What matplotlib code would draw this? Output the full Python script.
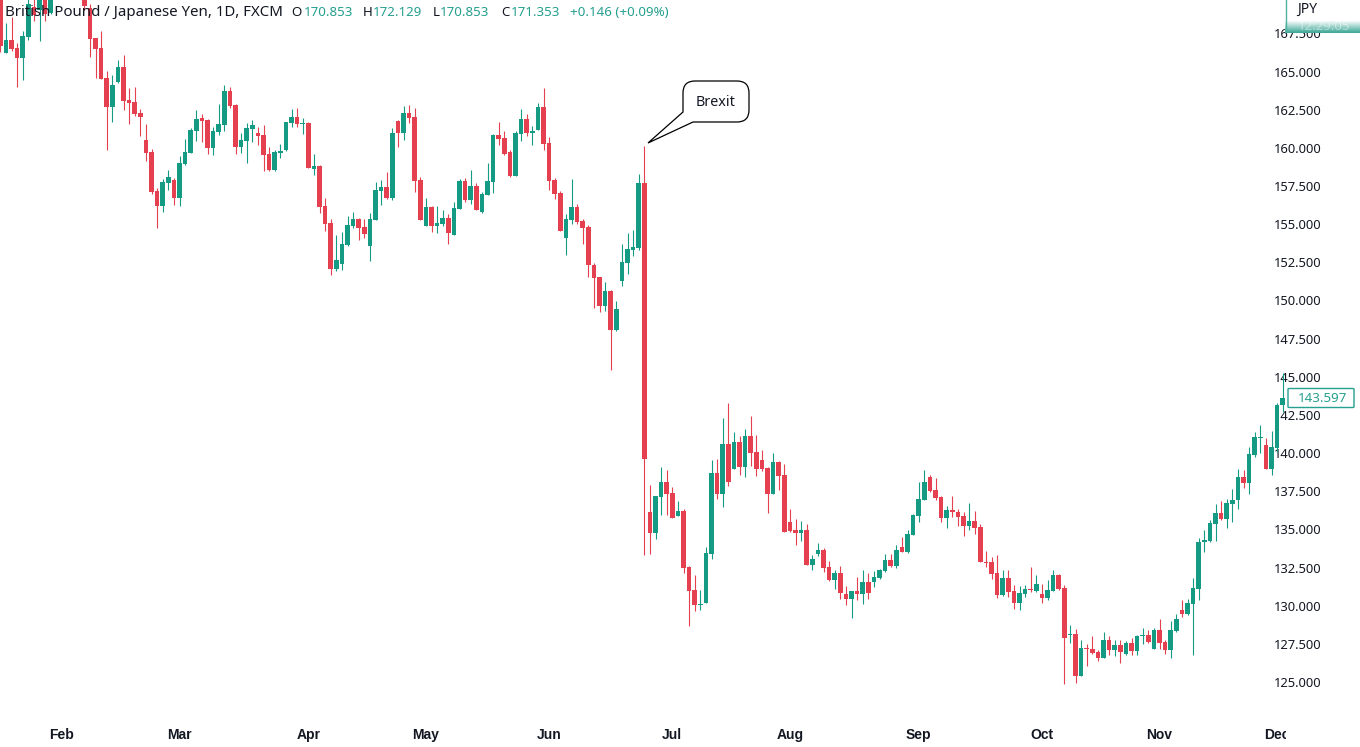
import numpy as np
import matplotlib
matplotlib.use("Agg")
import matplotlib.pyplot as plt
from matplotlib.patches import Rectangle, FancyBboxPatch, PathPatch
from matplotlib.path import Path

# GBP/JPY daily candles
opens = [170.5, 166.24, 167.07, 166.52, 165.91, 167.29, 169.21, 169.03, 170.6, 168.86,
         170.853, 171.4, 170.8, 171.2, 170.6, 170.2, 169.14, 167.18, 166.52, 164.56,
         162.7, 164.29, 165.28, 163.14, 163.0, 162.29, 160.52, 159.73, 157.17, 156.19,
         157.72, 157.89, 156.71, 158.94, 159.69, 161.11, 161.96, 161.83, 159.99, 161.04,
         161.5, 163.73, 162.81, 160.06, 160.45, 161.24, 160.95, 160.84, 159.6, 158.55,
         159.69, 159.86, 161.63, 162.02, 161.59, 161.63, 158.62, 158.81, 156.19,
         155.08, 152.06, 152.39, 153.64, 154.88, 155.34, 154.82, 153.57, 155.28, 157.18,
         157.44, 156.72, 161.76, 160.98, 162.29, 162.03, 157.9, 154.88, 156.13, 154.88,
         155.01, 155.41, 154.29, 155.98, 157.83, 156.59, 157.5, 155.8, 156.91, 157.77,
         160.85, 160.65, 159.73, 158.16, 160.91, 161.89, 161.0, 161.17, 162.68, 160.32,
         157.9, 157.05, 154.1, 155.28, 156.13, 155.21, 154.82, 152.33, 151.54, 149.64,
         150.62, 148.07, 151.28, 152.46, 153.31, 153.44, 157.7,
         136.14, 134.76, 137.12, 138.13, 137.39, 135.88, 136.21, 132.54, 131.03, 130.05,
         130.18, 133.39, 138.7, 137.32, 140.6, 138.96, 140.73, 139.09, 141.12, 140.07,
         139.55, 139.02, 137.32, 139.42, 138.56, 135.49, 134.96, 134.76, 134.96, 132.67,
         133.39, 133.65, 132.54, 131.69, 132.14, 130.77, 130.44, 130.96, 130.77, 131.55,
         131.55, 131.82, 132.27, 133.0, 132.6, 133.85, 133.52, 134.63, 135.88, 136.93,
         138.43, 137.58, 137.12, 135.75, 136.27, 136.14, 135.88,
         135.22, 135.55, 135.16, 132.86, 132.86, 132.14, 130.7, 131.81, 130.96, 130.18,
         130.77, 131.09, 130.96, 130.77, 130.5, 130.96, 132.01, 131.16, 128.06, 128.14,
         125.39, 127.23, 127.16, 126.96, 126.57, 127.75, 127.1, 127.42, 126.83, 127.55,
         127.03, 128.0, 128.08, 127.16, 128.41, 127.62, 127.1, 128.34, 129.72, 129.45,
         130.11, 131.09, 134.17, 134.24, 135.35, 136.07, 135.68, 136.66, 136.93, 138.43,
         138.04, 139.87, 140.99, 140.53, 138.96, 140.33, 143.15]

highs = [171.5, 168.16, 168.6, 166.85, 167.68, 170.0, 170.2, 170.9, 171.2, 171.6,
         172.129, 172.0, 171.6, 171.7, 171.0, 170.5, 169.4, 167.18, 167.66, 165.04,
         164.77, 165.76, 166.09, 163.9, 163.97, 162.55, 161.56, 159.93, 157.35, 157.96,
         158.55, 158.0, 159.47, 160.56, 161.28, 162.48, 162.2, 161.89, 161.39, 162.87,
         164.1, 163.97, 162.87, 160.95, 161.61, 161.83, 161.35, 161.5, 160.04, 159.86,
         160.25, 161.72, 162.55, 162.63, 161.94, 161.72, 159.58, 158.88, 156.69,
         155.32, 154.29, 154.47, 155.54, 155.8, 155.41, 155.32, 155.71, 157.77, 157.9,
         158.42, 161.3, 161.83, 162.75, 162.81, 162.62, 158.07, 156.72, 156.19, 156.19,
         155.93, 155.65, 156.46, 157.96, 158.03, 158.55, 157.68, 157.11, 159.01, 160.91,
         161.7, 161.11, 159.86, 161.11, 162.55, 162.22, 161.44, 162.94, 163.93, 160.71,
         158.03, 157.18, 155.67, 157.96, 156.32, 155.32, 154.95, 152.46, 151.54, 151.21,
         150.69, 149.97, 153.7, 154.42, 154.62, 158.29, 160.12,
         137.91, 137.19, 139.09, 138.89, 137.78, 136.86, 136.34, 132.6, 132.01, 131.03,
         133.85, 139.55, 139.61, 142.3, 143.28, 141.38, 141.12, 141.58, 142.43, 141.19,
         140.2, 139.09, 140.0, 139.48, 139.29, 136.34, 135.68, 135.55, 135.35, 133.32,
         134.11, 133.78, 132.93, 132.34, 132.6, 131.29, 130.96, 131.88, 132.34, 132.14,
         132.27, 132.4, 133.39, 133.39, 133.98, 134.5, 134.96, 136.01, 138.1, 138.89,
         138.56, 138.37, 137.19, 136.53, 137.19, 136.34, 136.14,
         136.73, 136.2, 135.35, 133.58, 133.19, 133.32, 132.34, 132.34, 131.36, 131.29,
         131.36, 132.53, 132.01, 131.42, 131.68, 132.34, 132.08, 131.36, 128.73, 128.47,
         127.75, 127.49, 128.01, 127.1, 128.27, 128.01, 127.75, 127.75, 127.69, 127.88,
         128.08, 128.54, 128.41, 128.54, 129.13, 127.75, 128.99, 129.45, 130.37, 130.44,
         131.81, 134.44, 134.96, 135.61, 136.66, 136.86, 136.99, 137.65, 138.96, 138.89,
         140.4, 141.38, 141.84, 140.99, 141.45, 143.28, 145.25]

lows = [166.3, 166.2, 166.37, 164.01, 164.45, 167.07, 168.34, 167.03, 168.34, 168.77,
        170.853, 170.5, 170.3, 170.4, 170.0, 169.03, 165.98, 164.56, 164.49, 159.86,
        161.72, 164.23, 162.48, 161.56, 162.11, 160.8, 159.16, 156.98, 154.75, 155.82,
        157.24, 156.28, 156.19, 158.88, 159.64, 160.47, 160.36, 159.6, 159.53, 160.84,
        161.13, 162.61, 159.6, 159.64, 158.99, 160.41, 160.19, 158.48, 158.5, 158.48,
        159.31, 159.79, 161.39, 161.35, 160.91, 158.66, 158.22, 155.75, 154.55,
        151.67, 151.96, 152.0, 153.59, 154.77, 153.96, 154.07, 152.59, 155.28, 156.26,
        156.65, 156.59, 160.06, 160.52, 161.65, 157.13, 155.28, 154.88, 154.49, 154.42,
        154.88, 153.7, 154.29, 155.98, 156.46, 156.32, 155.93, 155.73, 156.91, 157.02,
        160.19, 159.53, 158.09, 158.16, 160.45, 160.8, 160.19, 161.17, 159.86, 157.24,
        156.65, 154.55, 152.98, 155.01, 155.01, 153.7, 151.54, 149.51, 149.25, 149.31,
        145.45, 148.0, 150.95, 151.74, 152.92, 153.31, 133.32,
        133.39, 134.37, 135.94, 135.94, 135.75, 135.88, 132.14, 128.67, 129.65, 129.72,
        130.18, 133.06, 136.99, 136.47, 137.85, 138.96, 138.57, 138.43, 139.15, 138.5,
        138.83, 136.07, 137.32, 137.58, 134.83, 134.83, 133.98, 134.24, 132.67, 132.34,
        133.26, 132.21, 131.62, 131.1, 130.44, 130.05, 129.19, 130.37, 130.11, 130.44,
        131.23, 131.75, 132.21, 132.54, 132.47, 133.52, 133.45, 134.63, 135.49, 136.93,
        137.45, 136.93, 135.49, 135.09, 135.81, 135.22, 134.57,
        134.96, 134.7, 132.86, 132.53, 131.75, 130.5, 130.63, 130.57, 129.78, 129.72,
        130.57, 130.9, 130.9, 130.18, 130.37, 130.96, 131.03, 124.87, 127.55, 124.93,
        125.39, 126.05, 126.83, 126.37, 126.57, 126.77, 126.7, 126.24, 126.77, 126.77,
        126.77, 127.49, 127.55, 127.16, 127.16, 126.83, 126.57, 128.27, 129.26, 129.39,
        126.77, 130.37, 133.52, 134.17, 134.24, 135.61, 135.09, 135.48, 136.34, 137.71,
        137.32, 139.74, 140.01, 138.96, 138.56, 140.07, 142.69]

closes = [166.7, 167.07, 166.48, 165.91, 167.33, 169.43, 168.71, 170.4, 168.77, 171.0,
          171.353, 170.8, 171.2, 170.6, 170.2, 169.3, 167.13, 166.48, 164.51, 162.7,
          164.12, 165.28, 163.09, 162.92, 162.22, 162.05, 159.66, 157.11, 156.19, 157.76,
          158.09, 156.71, 158.99, 159.71, 161.17, 161.89, 161.78, 159.99, 161.11, 161.54,
          163.73, 162.74, 160.06, 160.52, 161.3, 161.5, 160.78, 159.53, 158.55, 159.73,
          159.79, 161.7, 162.02, 161.56, 161.63, 158.68, 158.81, 156.12, 155.01,
          152.06, 152.65, 153.7, 154.95, 155.34, 154.75, 154.36, 155.34, 157.24, 157.44,
          156.72, 160.98, 160.98, 162.29, 161.96, 157.83, 155.28, 156.13, 154.88, 155.06,
          155.41, 154.42, 156.06, 157.83, 156.59, 157.5, 155.93, 156.98, 157.83, 160.85,
          160.58, 159.6, 158.16, 160.98, 161.89, 160.98, 161.09, 162.68, 160.26, 157.83,
          156.98, 154.55, 155.34, 156.13, 155.14, 154.75, 152.33, 151.47, 149.64, 150.62,
          148.07, 149.44, 152.52, 153.37, 153.51, 157.7, 139.63,
          134.76, 137.19, 138.13, 137.32, 135.75, 136.21, 132.47, 130.96, 130.05, 130.11,
          133.45, 138.7, 137.32, 140.6, 138.1, 140.73, 139.09, 141.12, 140.01, 138.96,
          138.96, 137.32, 139.42, 138.5, 134.83, 134.9, 134.76, 134.96, 132.67, 133.06,
          133.65, 132.47, 131.69, 132.14, 130.83, 130.44, 130.96, 130.77, 131.55, 130.83,
          131.88, 132.34, 133.0, 132.6, 133.65, 133.52, 134.7, 135.94, 136.99, 138.1,
          137.52, 137.06, 135.75, 136.27, 136.14, 135.81, 135.22,
          135.55, 135.09, 132.86, 132.8, 132.08, 130.7, 131.81, 130.9, 130.18, 130.83,
          131.09, 131.01, 131.42, 130.5, 131.03, 132.01, 131.09, 127.88, 128.14, 125.39,
          127.23, 127.14, 126.9, 126.57, 127.75, 127.1, 127.42, 126.96, 127.55, 127.03,
          128.01, 128.08, 127.62, 128.41, 127.55, 127.1, 128.41, 129.13, 129.45, 130.18,
          131.16, 134.17, 134.3, 135.42, 136.07, 135.68, 136.73, 136.93, 138.43, 138.04,
          139.94, 141.05, 141.05, 138.96, 140.4, 143.15, 143.597]

month_labels = ["Feb", "Mar", "Apr", "May", "Jun", "Jul", "Aug", "Sep", "Oct", "Nov", "Dec"]
month_bars = [11, 32, 55, 76, 98, 120, 141, 164, 186, 207, 228]
price_ticks = [125, 127.5, 130, 132.5, 135, 137.5, 140, 142.5, 145, 147.5, 150, 152.5,
               155, 157.5, 160, 162.5, 165, 167.5]
last_price = closes[-1]

GREEN = "#159a83"
RED = "#e5404f"
TEAL = "#26a08f"
DARK = "#131722"
FONT = "Noto Sans"
W, H = 1360, 747


def fx(px):
    return px / W


def fy(py):
    return 1 - py / H


opens = np.array(opens)
highs = np.array(highs)
lows = np.array(lows)
closes = np.array(closes)
bars = np.arange(len(opens))
colors = [GREEN if c >= o else RED for o, c in zip(opens, closes)]

fig = plt.figure(figsize=(13.6, 7.47), dpi=100, facecolor="white")
ax = fig.add_axes([0, 0, 1, 1])
for s in ax.spines.values():
    s.set_visible(False)

ax.vlines(bars, lows, highs, colors=colors, linewidth=0.8, zorder=2)
ax.bar(bars, np.maximum(np.abs(closes - opens), 0.06), bottom=np.minimum(opens, closes),
       width=0.8, color=colors, linewidth=0, zorder=3)

# one bar is 5.6 px
ax.set_xlim(-0.3 / 5.6, -0.3 / 5.6 + W / 5.6)
ax.set_ylim(120.74, 169.69)

ax.yaxis.tick_right()
ax.set_yticks(price_ticks)
ax.set_yticklabels(["%.3f" % p for p in price_ticks], fontfamily=FONT, fontsize=9.3, color=DARK)
ax.tick_params(axis="y", length=0, pad=-62)
ax.set_xticks(month_bars)
ax.set_xticklabels(month_labels, fontfamily="Liberation Sans", fontsize=10, fontweight="bold", color=DARK)
ax.tick_params(axis="x", length=0, pad=-13.5)

# price scale covers the clipped Dec label
fig.add_artist(Rectangle((fx(1286), 0), fx(74), 28 / H, transform=fig.transFigure,
                         facecolor="white", edgecolor="none", zorder=4))

# header line
fig.text(fx(5), fy(13), "British Pound / Japanese Yen, 1D, FXCM", fontfamily=FONT, fontsize=10.8,
         color=DARK, va="center", zorder=6)
for label, px, col in [("O", 291, DARK), ("170.853", 304, TEAL), ("H", 363, DARK),
                       ("172.129", 373, TEAL), ("L", 433, DARK), ("170.853", 440, TEAL),
                       ("C", 501, DARK), ("171.353", 511, TEAL),
                       ("+0.146 (+0.09%)", 570, TEAL)]:
    fig.text(fx(px), fy(13), label, fontfamily=FONT, fontsize=9.6, color=col, va="center", zorder=6)

# Brexit callout
verts = [(648, 143), (683, 112), (683, 93), (683, 81), (695, 81), (737, 81), (749, 81), (749, 93),
         (749, 110), (749, 122), (737, 122), (693, 122), (648, 143)]
codes = [Path.MOVETO, Path.LINETO, Path.LINETO, Path.CURVE3, Path.CURVE3, Path.LINETO, Path.CURVE3,
         Path.CURVE3, Path.LINETO, Path.CURVE3, Path.CURVE3, Path.LINETO, Path.CLOSEPOLY]
callout = Path([(fx(a), fy(b)) for a, b in verts], codes)
fig.add_artist(PathPatch(callout, transform=fig.transFigure, facecolor="white", edgecolor="black",
                         linewidth=0.9, zorder=5))
fig.text(fx(716), fy(102.5), "Brexit", fontfamily=FONT, fontsize=10.3, color=DARK,
         ha="center", va="center", zorder=6)

# last price tag
fig.add_artist(FancyBboxPatch((fx(1288), fy(407.5)), fx(66), 19 / H, boxstyle="round,pad=0,rounding_size=0.001",
                              transform=fig.transFigure, facecolor="white", edgecolor=TEAL,
                              linewidth=1.0, zorder=5))
fig.text(fx(1298), fy(398.5), "%.3f" % last_price, fontfamily=FONT, fontsize=9.6, color=TEAL,
         va="center", zorder=6)

# symbol box, top right, with the faded countdown
box = fig.add_axes([fx(1285), fy(33), fx(75), 33 / H], zorder=7)
grad = np.ones((33, 2))
grad[20:, :] = np.linspace(1, 0, 13)[:, None]
cmap = matplotlib.colors.LinearSegmentedColormap.from_list("fade", ["#3fa898", "white"])
box.imshow(grad, cmap=cmap, aspect="auto", vmin=0, vmax=1, extent=[0, 75, 33, 0])
box.set_xticks([])
box.set_yticks([])
for s in box.spines.values():
    s.set_visible(False)
box.plot([0.5, 0.5], [0, 33], color="#4fb3a4", linewidth=1)
box.set_xlim(0, 75)
box.set_ylim(33, 0)
box.text(12, 9.5, "JPY", fontfamily=FONT, fontsize=10, color=DARK, va="center")
box.text(13, 27, "12:29:05", fontfamily=FONT, fontsize=9.5, color="white", va="center", alpha=0.45)

fig.savefig("out.png", dpi=100)
